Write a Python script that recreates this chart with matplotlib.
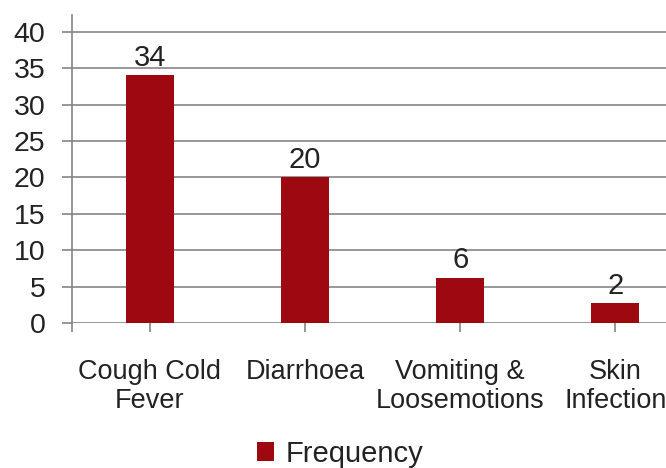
import matplotlib.pyplot as plt
from matplotlib.patches import Patch

plt.rcParams['font.family'] = ['Liberation Sans', 'DejaVu Sans']

categories = ["Cough Cold\nFever", "Diarrhoea", "Vomiting &\nLoosemotions", "Skin\nInfection"]
heights = [34, 20, 6.2, 2.7]
labels = ["34", "20", "6", "2"]
yticks = [0, 5, 10, 15, 20, 25, 30, 35, 40]

bar_color = "#9E0810"
grid_color = "#858585"
text_color = "#222222"

fig = plt.figure(figsize=(6.66, 4.68), dpi=100)
ax = fig.add_axes([72/666, (468-323)/468, (693-72)/666, (323-15)/468])

x = range(len(categories))
bars = ax.bar(x, heights, width=0.31, color=bar_color, zorder=3)
for b, t in zip(bars, labels):
    ax.text(b.get_x() + b.get_width()/2, b.get_height() + 0.5, t,
            ha='center', va='bottom', fontsize=21, color=text_color)

ax.set_xlim(-0.5, 3.5)
ax.set_ylim(0, 42.3)
ax.set_yticks(yticks)
ax.set_xticks(list(x))
ax.set_xticklabels(categories, fontsize=19.5, color=text_color, linespacing=1.15)
ax.set_xticks([-0.5], minor=True)
ax.tick_params(axis='y', labelsize=20.5, labelcolor=text_color, length=7, width=1.2,
               color=grid_color, pad=12)
ax.tick_params(axis='x', which='both', length=6.5, width=1.2, color=grid_color, pad=19.5)
ax.yaxis.grid(True, color=grid_color, linewidth=1.2, zorder=0)

for s in ['top', 'right', 'bottom']:
    ax.spines[s].set_visible(False)
ax.spines['left'].set_color(grid_color)
ax.spines['left'].set_linewidth(1.2)

handle = Patch(facecolor=bar_color, edgecolor='none', label='Frequency')
fig.legend(handles=[handle], loc='center', bbox_to_anchor=(340/666, (468-454)/468),
           frameon=False, fontsize=21, handlelength=0.6, handleheight=0.6,
           handletextpad=0.4, labelcolor=text_color)

fig.savefig("out.png", dpi=100)
